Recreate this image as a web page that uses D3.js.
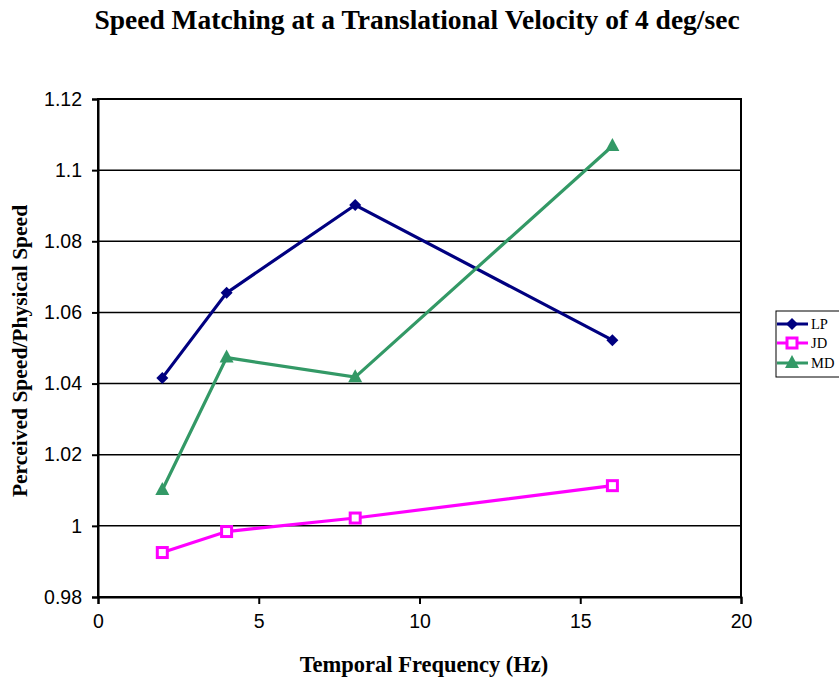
<!DOCTYPE html>
<html><head><meta charset="utf-8">
<script src="https://cdn.jsdelivr.net/npm/d3@7"></script>
<style>body{margin:0;background:#fff}</style>
</head><body>
<script>
const xValues = [2, 4, 8, 16];
const seriesNames = ["LP", "JD", "MD"];
const lpValues = [1.0416, 1.0655, 1.0902, 1.0522];
const jdValues = [0.9925, 0.9984, 1.0022, 1.0113];
const mdValues = [1.0101, 1.0473, 1.0418, 1.1068];
const xTicks = [0, 5, 10, 15, 20];
const yTicks = [0.98, 1.0, 1.02, 1.04, 1.06, 1.08, 1.1, 1.12];
const colors = ["#000080", "#FF00FF", "#339966"];
const symbols = ["diamond", "square", "triangle"];

const W = 839, H = 681;
const L = 98, R = 741, T = 99, B = 597;
const svg = d3.select("body").append("svg").attr("width", W).attr("height", H);

const x = d3.scaleLinear().domain([0, 20]).range([L, R]);
const y = d3.scaleLinear().domain([0.98, 1.12]).range([B, T]);

// gridlines
svg.append("g").selectAll("line").data(yTicks.slice(1)).join("line")
  .attr("x1", L).attr("x2", R).attr("y1", d => y(d)).attr("y2", d => y(d))
  .attr("stroke", "#000").attr("stroke-width", 1.5);

// frame
svg.append("rect").attr("x", L).attr("y", T).attr("width", R - L).attr("height", B - T)
  .attr("fill", "none").attr("stroke", "#000").attr("stroke-width", 2);

const tickFont = "'Liberation Sans', Arial, sans-serif";
const yAxis = svg.append("g").attr("transform", `translate(${L},0)`)
  .call(d3.axisLeft(y).tickValues(yTicks).tickSize(6).tickPadding(10).tickFormat(d => d3.format("")(+d.toFixed(2))));
const xAxis = svg.append("g").attr("transform", `translate(0,${B})`)
  .call(d3.axisBottom(x).tickValues(xTicks).tickSize(7).tickPadding(10).tickFormat(d3.format("d")));
[yAxis, xAxis].forEach(a => {
  a.select(".domain").attr("stroke", "#000").attr("stroke-width", 2);
  a.selectAll(".tick line").attr("stroke", "#000").attr("stroke-width", 2);
  a.selectAll("text").attr("font-family", tickFont).attr("font-size", 19.5).attr("fill", "#000");
});

const allSeries = [lpValues, jdValues, mdValues];
const line = d3.line().x((d, i) => x(xValues[i])).y(d => y(d));

function drawMarker(g, type, cx, cy, color) {
  if (type === "diamond") {
    g.append("path").attr("d", `M${cx},${cy-6}L${cx+6},${cy}L${cx},${cy+6}L${cx-6},${cy}Z`).attr("fill", color);
  } else if (type === "square") {
    g.append("rect").attr("x", cx - 5).attr("y", cy - 5).attr("width", 10).attr("height", 10)
      .attr("fill", "#fff").attr("stroke", color).attr("stroke-width", 3);
  } else {
    g.append("path").attr("d", `M${cx},${cy-8}L${cx+7},${cy+5}L${cx-7},${cy+5}Z`).attr("fill", color);
  }
}

allSeries.forEach((vals, si) => {
  const g = svg.append("g");
  g.append("path").datum(vals).attr("d", line).attr("fill", "none")
    .attr("stroke", colors[si]).attr("stroke-width", 3.2);
  vals.forEach((v, i) => drawMarker(g, symbols[si], x(xValues[i]), y(v), colors[si]));
});

// titles
const serif = "'Liberation Serif', 'Times New Roman', serif";
svg.append("text").attr("x", 417).attr("y", 29).attr("text-anchor", "middle")
  .attr("font-family", serif).attr("font-weight", "bold").attr("font-size", 27.5)
  .text("Speed Matching at a Translational Velocity of 4 deg/sec");
svg.append("text").attr("x", 424).attr("y", 672).attr("text-anchor", "middle")
  .attr("font-family", serif).attr("font-weight", "bold").attr("font-size", 22.5)
  .text("Temporal Frequency (Hz)");
svg.append("text").attr("transform", "translate(27,351) rotate(-90)").attr("text-anchor", "middle")
  .attr("font-family", serif).attr("font-weight", "bold").attr("font-size", 21.5)
  .text("Perceived Speed/Physical Speed");

// legend
const lg = svg.append("g");
lg.append("rect").attr("x", 776).attr("y", 311).attr("width", 70).attr("height", 66)
  .attr("fill", "#fff").attr("stroke", "#000").attr("stroke-width", 1);
const legY = [324, 343, 363];
seriesNames.forEach((n, i) => {
  lg.append("line").attr("x1", 777).attr("x2", 808).attr("y1", legY[i]).attr("y2", legY[i])
    .attr("stroke", colors[i]).attr("stroke-width", 3);
  drawMarker(lg, symbols[i], 792, legY[i], colors[i]);
  lg.append("text").attr("x", 811).attr("y", legY[i] + 5).attr("font-family", serif)
    .attr("font-size", 14.5).attr("fill", "#000").text(n);
});
</script>
</body></html>
